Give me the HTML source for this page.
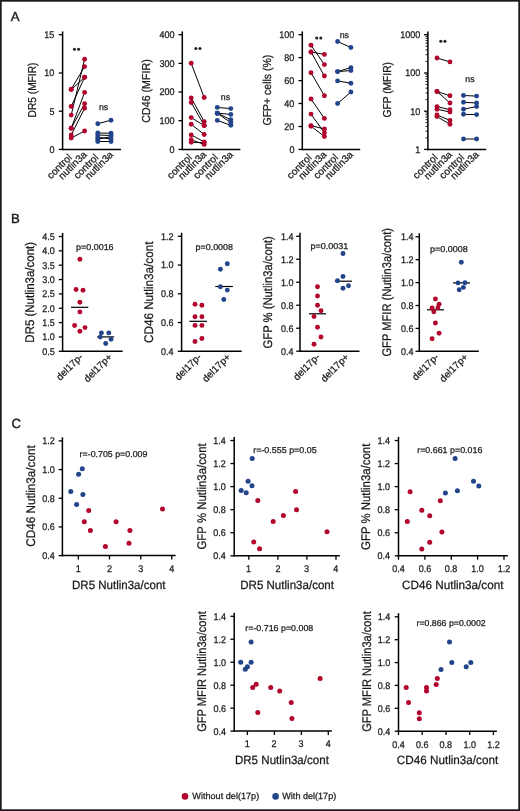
<!DOCTYPE html>
<html><head><meta charset="utf-8"><title>Figure</title>
<style>
html,body{margin:0;padding:0;background:#fff;}
body{width:520px;height:811px;overflow:hidden;}
svg{display:block;will-change:transform;}
text{font-family:"Liberation Sans", sans-serif;text-rendering:geometricPrecision;fill:#1a1a1a;stroke:#1a1a1a;stroke-width:0.25px;}
text.pl{stroke-width:0.4px;}
</style></head><body>
<svg width="520" height="811" viewBox="0 0 520 811">
<rect x="0" y="0" width="520" height="811" fill="#fff"/>
<text x="10.8" y="21.3" font-size="13.2" class="pl">A</text>
<text x="36.1" y="90" font-size="11.5" text-anchor="middle" textLength="54.8" lengthAdjust="spacingAndGlyphs" transform="rotate(-90 36.1 90)">DR5 (MFIR)</text>
<line x1="62.6" y1="31.4" x2="62.6" y2="150.15" stroke="#000" stroke-width="1.5"/>
<line x1="58.8" y1="149.4" x2="62.6" y2="149.4" stroke="#000" stroke-width="1.3"/>
<text x="54.4" y="152.8" font-size="9.7" text-anchor="end" textLength="5.02" lengthAdjust="spacingAndGlyphs">0</text>
<line x1="58.8" y1="111.2" x2="62.6" y2="111.2" stroke="#000" stroke-width="1.3"/>
<text x="54.4" y="114.6" font-size="9.7" text-anchor="end" textLength="5.02" lengthAdjust="spacingAndGlyphs">5</text>
<line x1="58.8" y1="73" x2="62.6" y2="73" stroke="#000" stroke-width="1.3"/>
<text x="54.4" y="76.4" font-size="9.7" text-anchor="end" textLength="10.03" lengthAdjust="spacingAndGlyphs">10</text>
<line x1="58.8" y1="34.7" x2="62.6" y2="34.7" stroke="#000" stroke-width="1.3"/>
<text x="54.4" y="38.1" font-size="9.7" text-anchor="end" textLength="10.03" lengthAdjust="spacingAndGlyphs">15</text>
<line x1="61.85" y1="149.4" x2="121" y2="149.4" stroke="#000" stroke-width="1.5"/>
<line x1="71.2" y1="89.2" x2="84.6" y2="66.6" stroke="#000" stroke-width="1"/>
<line x1="71.2" y1="89.6" x2="84.6" y2="77.3" stroke="#000" stroke-width="1"/>
<line x1="71.2" y1="106.5" x2="84.6" y2="77.3" stroke="#000" stroke-width="1"/>
<line x1="71.2" y1="115.1" x2="84.6" y2="59.2" stroke="#000" stroke-width="1"/>
<line x1="71.2" y1="128.3" x2="84.6" y2="92.4" stroke="#000" stroke-width="1"/>
<line x1="71.2" y1="128.3" x2="84.6" y2="103.7" stroke="#000" stroke-width="1"/>
<line x1="71.2" y1="135" x2="84.6" y2="108.2" stroke="#000" stroke-width="1"/>
<line x1="71.2" y1="138" x2="84.6" y2="131" stroke="#000" stroke-width="1"/>
<circle cx="71.2" cy="89.2" r="2.45" fill="#b1052e"/>
<circle cx="84.6" cy="66.6" r="2.45" fill="#b1052e"/>
<circle cx="71.2" cy="89.6" r="2.45" fill="#b1052e"/>
<circle cx="84.6" cy="77.3" r="2.45" fill="#b1052e"/>
<circle cx="71.2" cy="106.5" r="2.45" fill="#b1052e"/>
<circle cx="84.6" cy="77.3" r="2.45" fill="#b1052e"/>
<circle cx="71.2" cy="115.1" r="2.45" fill="#b1052e"/>
<circle cx="84.6" cy="59.2" r="2.45" fill="#b1052e"/>
<circle cx="71.2" cy="128.3" r="2.45" fill="#b1052e"/>
<circle cx="84.6" cy="92.4" r="2.45" fill="#b1052e"/>
<circle cx="71.2" cy="128.3" r="2.45" fill="#b1052e"/>
<circle cx="84.6" cy="103.7" r="2.45" fill="#b1052e"/>
<circle cx="71.2" cy="135" r="2.45" fill="#b1052e"/>
<circle cx="84.6" cy="108.2" r="2.45" fill="#b1052e"/>
<circle cx="71.2" cy="138" r="2.45" fill="#b1052e"/>
<circle cx="84.6" cy="131" r="2.45" fill="#b1052e"/>
<line x1="97.8" y1="123.7" x2="111" y2="120.2" stroke="#000" stroke-width="1"/>
<line x1="97.8" y1="133" x2="111" y2="133.2" stroke="#000" stroke-width="1"/>
<line x1="97.8" y1="135" x2="111" y2="135.5" stroke="#000" stroke-width="1"/>
<line x1="97.8" y1="137.2" x2="111" y2="139" stroke="#000" stroke-width="1"/>
<line x1="97.8" y1="139.2" x2="111" y2="136.8" stroke="#000" stroke-width="1"/>
<line x1="97.8" y1="141.5" x2="111" y2="141.5" stroke="#000" stroke-width="1"/>
<circle cx="97.8" cy="123.7" r="2.45" fill="#21448a"/>
<circle cx="111" cy="120.2" r="2.45" fill="#21448a"/>
<circle cx="97.8" cy="133" r="2.45" fill="#21448a"/>
<circle cx="111" cy="133.2" r="2.45" fill="#21448a"/>
<circle cx="97.8" cy="135" r="2.45" fill="#21448a"/>
<circle cx="111" cy="135.5" r="2.45" fill="#21448a"/>
<circle cx="97.8" cy="137.2" r="2.45" fill="#21448a"/>
<circle cx="111" cy="139" r="2.45" fill="#21448a"/>
<circle cx="97.8" cy="139.2" r="2.45" fill="#21448a"/>
<circle cx="111" cy="136.8" r="2.45" fill="#21448a"/>
<circle cx="97.8" cy="141.5" r="2.45" fill="#21448a"/>
<circle cx="111" cy="141.5" r="2.45" fill="#21448a"/>
<circle cx="74.45" cy="49.2" r="1.55" fill="#222"/>
<circle cx="78.55" cy="49.2" r="1.55" fill="#222"/>
<text x="103.6" y="109.7" font-size="8.8" text-anchor="middle">ns</text>
<text x="72.5" y="158.1" font-size="10.1" text-anchor="end" transform="rotate(-45 72.5 158.1)">control</text>
<text x="87.4" y="155.2" font-size="10" text-anchor="end" transform="rotate(-45 87.4 155.2)">nutlin3a</text>
<text x="99.1" y="158.1" font-size="10.1" text-anchor="end" transform="rotate(-45 99.1 158.1)">control</text>
<text x="113.8" y="155.2" font-size="10" text-anchor="end" transform="rotate(-45 113.8 155.2)">nutlin3a</text>
<text x="150" y="91" font-size="11.5" text-anchor="middle" textLength="63.4" lengthAdjust="spacingAndGlyphs" transform="rotate(-90 150 91)">CD46 (MFIR)</text>
<line x1="182.3" y1="31.4" x2="182.3" y2="150.15" stroke="#000" stroke-width="1.5"/>
<line x1="178.5" y1="149.4" x2="182.3" y2="149.4" stroke="#000" stroke-width="1.3"/>
<text x="174.6" y="152.8" font-size="9.7" text-anchor="end" textLength="5.02" lengthAdjust="spacingAndGlyphs">0</text>
<line x1="178.5" y1="120.7" x2="182.3" y2="120.7" stroke="#000" stroke-width="1.3"/>
<text x="174.6" y="124.1" font-size="9.7" text-anchor="end" textLength="15.05" lengthAdjust="spacingAndGlyphs">100</text>
<line x1="178.5" y1="92" x2="182.3" y2="92" stroke="#000" stroke-width="1.3"/>
<text x="174.6" y="95.4" font-size="9.7" text-anchor="end" textLength="15.05" lengthAdjust="spacingAndGlyphs">200</text>
<line x1="178.5" y1="63.4" x2="182.3" y2="63.4" stroke="#000" stroke-width="1.3"/>
<text x="174.6" y="66.8" font-size="9.7" text-anchor="end" textLength="15.05" lengthAdjust="spacingAndGlyphs">300</text>
<line x1="178.5" y1="34.7" x2="182.3" y2="34.7" stroke="#000" stroke-width="1.3"/>
<text x="174.6" y="38.1" font-size="9.7" text-anchor="end" textLength="15.05" lengthAdjust="spacingAndGlyphs">400</text>
<line x1="181.55" y1="149.4" x2="240.4" y2="149.4" stroke="#000" stroke-width="1.5"/>
<line x1="191.2" y1="63.3" x2="204.2" y2="97.5" stroke="#000" stroke-width="1"/>
<line x1="191.2" y1="97.9" x2="204.2" y2="121.6" stroke="#000" stroke-width="1"/>
<line x1="191.2" y1="102.5" x2="204.2" y2="125.5" stroke="#000" stroke-width="1"/>
<line x1="191.2" y1="117.6" x2="204.2" y2="125.5" stroke="#000" stroke-width="1"/>
<line x1="191.2" y1="124.3" x2="204.2" y2="134.5" stroke="#000" stroke-width="1"/>
<line x1="191.2" y1="134.9" x2="204.2" y2="141.9" stroke="#000" stroke-width="1"/>
<line x1="191.2" y1="139.8" x2="204.2" y2="144.4" stroke="#000" stroke-width="1"/>
<line x1="191.2" y1="142.3" x2="204.2" y2="142.6" stroke="#000" stroke-width="1"/>
<circle cx="191.2" cy="63.3" r="2.45" fill="#b1052e"/>
<circle cx="204.2" cy="97.5" r="2.45" fill="#b1052e"/>
<circle cx="191.2" cy="97.9" r="2.45" fill="#b1052e"/>
<circle cx="204.2" cy="121.6" r="2.45" fill="#b1052e"/>
<circle cx="191.2" cy="102.5" r="2.45" fill="#b1052e"/>
<circle cx="204.2" cy="125.5" r="2.45" fill="#b1052e"/>
<circle cx="191.2" cy="117.6" r="2.45" fill="#b1052e"/>
<circle cx="204.2" cy="125.5" r="2.45" fill="#b1052e"/>
<circle cx="191.2" cy="124.3" r="2.45" fill="#b1052e"/>
<circle cx="204.2" cy="134.5" r="2.45" fill="#b1052e"/>
<circle cx="191.2" cy="134.9" r="2.45" fill="#b1052e"/>
<circle cx="204.2" cy="141.9" r="2.45" fill="#b1052e"/>
<circle cx="191.2" cy="139.8" r="2.45" fill="#b1052e"/>
<circle cx="204.2" cy="144.4" r="2.45" fill="#b1052e"/>
<circle cx="191.2" cy="142.3" r="2.45" fill="#b1052e"/>
<circle cx="204.2" cy="142.6" r="2.45" fill="#b1052e"/>
<line x1="217.3" y1="107.4" x2="230.8" y2="108.6" stroke="#000" stroke-width="1"/>
<line x1="217.3" y1="113.2" x2="230.8" y2="114.4" stroke="#000" stroke-width="1"/>
<line x1="217.3" y1="113.2" x2="230.8" y2="119.7" stroke="#000" stroke-width="1"/>
<line x1="217.3" y1="113.2" x2="230.8" y2="122.6" stroke="#000" stroke-width="1"/>
<line x1="217.3" y1="120.4" x2="230.8" y2="125.3" stroke="#000" stroke-width="1"/>
<circle cx="217.3" cy="107.4" r="2.45" fill="#21448a"/>
<circle cx="230.8" cy="108.6" r="2.45" fill="#21448a"/>
<circle cx="217.3" cy="113.2" r="2.45" fill="#21448a"/>
<circle cx="230.8" cy="114.4" r="2.45" fill="#21448a"/>
<circle cx="217.3" cy="113.2" r="2.45" fill="#21448a"/>
<circle cx="230.8" cy="119.7" r="2.45" fill="#21448a"/>
<circle cx="217.3" cy="113.2" r="2.45" fill="#21448a"/>
<circle cx="230.8" cy="122.6" r="2.45" fill="#21448a"/>
<circle cx="217.3" cy="120.4" r="2.45" fill="#21448a"/>
<circle cx="230.8" cy="125.3" r="2.45" fill="#21448a"/>
<circle cx="195.85" cy="48.5" r="1.55" fill="#222"/>
<circle cx="199.95" cy="48.5" r="1.55" fill="#222"/>
<text x="225.4" y="99.7" font-size="8.8" text-anchor="middle">ns</text>
<text x="192.5" y="158.1" font-size="10.1" text-anchor="end" transform="rotate(-45 192.5 158.1)">control</text>
<text x="207" y="155.2" font-size="10" text-anchor="end" transform="rotate(-45 207 155.2)">nutlin3a</text>
<text x="218.6" y="158.1" font-size="10.1" text-anchor="end" transform="rotate(-45 218.6 158.1)">control</text>
<text x="233.6" y="155.2" font-size="10" text-anchor="end" transform="rotate(-45 233.6 155.2)">nutlin3a</text>
<text x="270.6" y="90.1" font-size="11.5" text-anchor="middle" textLength="70.8" lengthAdjust="spacingAndGlyphs" transform="rotate(-90 270.6 90.1)">GFP+ cells (%)</text>
<line x1="302.3" y1="31.4" x2="302.3" y2="150.15" stroke="#000" stroke-width="1.5"/>
<line x1="298.5" y1="149.4" x2="302.3" y2="149.4" stroke="#000" stroke-width="1.3"/>
<text x="294.4" y="152.8" font-size="9.7" text-anchor="end" textLength="5.02" lengthAdjust="spacingAndGlyphs">0</text>
<line x1="298.5" y1="126.5" x2="302.3" y2="126.5" stroke="#000" stroke-width="1.3"/>
<text x="294.4" y="129.9" font-size="9.7" text-anchor="end" textLength="10.03" lengthAdjust="spacingAndGlyphs">20</text>
<line x1="298.5" y1="103.5" x2="302.3" y2="103.5" stroke="#000" stroke-width="1.3"/>
<text x="294.4" y="106.9" font-size="9.7" text-anchor="end" textLength="10.03" lengthAdjust="spacingAndGlyphs">40</text>
<line x1="298.5" y1="80.6" x2="302.3" y2="80.6" stroke="#000" stroke-width="1.3"/>
<text x="294.4" y="84" font-size="9.7" text-anchor="end" textLength="10.03" lengthAdjust="spacingAndGlyphs">60</text>
<line x1="298.5" y1="57.6" x2="302.3" y2="57.6" stroke="#000" stroke-width="1.3"/>
<text x="294.4" y="61" font-size="9.7" text-anchor="end" textLength="10.03" lengthAdjust="spacingAndGlyphs">80</text>
<line x1="298.5" y1="34.7" x2="302.3" y2="34.7" stroke="#000" stroke-width="1.3"/>
<text x="294.4" y="38.1" font-size="9.7" text-anchor="end" textLength="15.05" lengthAdjust="spacingAndGlyphs">100</text>
<line x1="301.55" y1="149.4" x2="360.2" y2="149.4" stroke="#000" stroke-width="1.5"/>
<line x1="311" y1="45.2" x2="324.4" y2="64.6" stroke="#000" stroke-width="1"/>
<line x1="311" y1="52" x2="324.4" y2="54.4" stroke="#000" stroke-width="1"/>
<line x1="311" y1="52" x2="324.4" y2="76" stroke="#000" stroke-width="1"/>
<line x1="311" y1="72.7" x2="324.4" y2="95.7" stroke="#000" stroke-width="1"/>
<line x1="311" y1="99" x2="324.4" y2="118.4" stroke="#000" stroke-width="1"/>
<line x1="311" y1="114.1" x2="324.4" y2="132.7" stroke="#000" stroke-width="1"/>
<line x1="311" y1="125.6" x2="324.4" y2="129" stroke="#000" stroke-width="1"/>
<line x1="311" y1="126.2" x2="324.4" y2="136.5" stroke="#000" stroke-width="1"/>
<circle cx="311" cy="45.2" r="2.45" fill="#b1052e"/>
<circle cx="324.4" cy="64.6" r="2.45" fill="#b1052e"/>
<circle cx="311" cy="52" r="2.45" fill="#b1052e"/>
<circle cx="324.4" cy="54.4" r="2.45" fill="#b1052e"/>
<circle cx="311" cy="52" r="2.45" fill="#b1052e"/>
<circle cx="324.4" cy="76" r="2.45" fill="#b1052e"/>
<circle cx="311" cy="72.7" r="2.45" fill="#b1052e"/>
<circle cx="324.4" cy="95.7" r="2.45" fill="#b1052e"/>
<circle cx="311" cy="99" r="2.45" fill="#b1052e"/>
<circle cx="324.4" cy="118.4" r="2.45" fill="#b1052e"/>
<circle cx="311" cy="114.1" r="2.45" fill="#b1052e"/>
<circle cx="324.4" cy="132.7" r="2.45" fill="#b1052e"/>
<circle cx="311" cy="125.6" r="2.45" fill="#b1052e"/>
<circle cx="324.4" cy="129" r="2.45" fill="#b1052e"/>
<circle cx="311" cy="126.2" r="2.45" fill="#b1052e"/>
<circle cx="324.4" cy="136.5" r="2.45" fill="#b1052e"/>
<line x1="337.6" y1="41.5" x2="350.9" y2="47.5" stroke="#000" stroke-width="1"/>
<line x1="337.6" y1="71.6" x2="350.9" y2="67.6" stroke="#000" stroke-width="1"/>
<line x1="337.6" y1="71.6" x2="350.9" y2="70.5" stroke="#000" stroke-width="1"/>
<line x1="337.6" y1="80.9" x2="350.9" y2="83.2" stroke="#000" stroke-width="1"/>
<line x1="337.6" y1="103.5" x2="350.9" y2="92" stroke="#000" stroke-width="1"/>
<circle cx="337.6" cy="41.5" r="2.45" fill="#21448a"/>
<circle cx="350.9" cy="47.5" r="2.45" fill="#21448a"/>
<circle cx="337.6" cy="71.6" r="2.45" fill="#21448a"/>
<circle cx="350.9" cy="67.6" r="2.45" fill="#21448a"/>
<circle cx="337.6" cy="71.6" r="2.45" fill="#21448a"/>
<circle cx="350.9" cy="70.5" r="2.45" fill="#21448a"/>
<circle cx="337.6" cy="80.9" r="2.45" fill="#21448a"/>
<circle cx="350.9" cy="83.2" r="2.45" fill="#21448a"/>
<circle cx="337.6" cy="103.5" r="2.45" fill="#21448a"/>
<circle cx="350.9" cy="92" r="2.45" fill="#21448a"/>
<circle cx="316.75" cy="38" r="1.55" fill="#222"/>
<circle cx="320.85" cy="38" r="1.55" fill="#222"/>
<text x="344.3" y="38" font-size="8.8" text-anchor="middle">ns</text>
<text x="312.3" y="158.1" font-size="10.1" text-anchor="end" transform="rotate(-45 312.3 158.1)">control</text>
<text x="327.2" y="155.2" font-size="10" text-anchor="end" transform="rotate(-45 327.2 155.2)">nutlin3a</text>
<text x="338.9" y="158.1" font-size="10.1" text-anchor="end" transform="rotate(-45 338.9 158.1)">control</text>
<text x="353.7" y="155.2" font-size="10" text-anchor="end" transform="rotate(-45 353.7 155.2)">nutlin3a</text>
<text x="390.6" y="89.8" font-size="11.5" text-anchor="middle" textLength="55.5" lengthAdjust="spacingAndGlyphs" transform="rotate(-90 390.6 89.8)">GFP (MFIR)</text>
<line x1="427.9" y1="31.4" x2="427.9" y2="150.15" stroke="#000" stroke-width="1.5"/>
<line x1="424.1" y1="149.4" x2="427.9" y2="149.4" stroke="#000" stroke-width="1.3"/>
<text x="420.3" y="152.8" font-size="9.7" text-anchor="end" textLength="5.02" lengthAdjust="spacingAndGlyphs">1</text>
<line x1="424.1" y1="111.2" x2="427.9" y2="111.2" stroke="#000" stroke-width="1.3"/>
<text x="420.3" y="114.6" font-size="9.7" text-anchor="end" textLength="10.03" lengthAdjust="spacingAndGlyphs">10</text>
<line x1="424.1" y1="73" x2="427.9" y2="73" stroke="#000" stroke-width="1.3"/>
<text x="420.3" y="76.4" font-size="9.7" text-anchor="end" textLength="15.05" lengthAdjust="spacingAndGlyphs">100</text>
<line x1="424.1" y1="34.7" x2="427.9" y2="34.7" stroke="#000" stroke-width="1.3"/>
<text x="420.3" y="38.1" font-size="9.7" text-anchor="end" textLength="20.07" lengthAdjust="spacingAndGlyphs">1000</text>
<line x1="425.5" y1="137.89" x2="427.9" y2="137.89" stroke="#000" stroke-width="0.9"/>
<line x1="425.5" y1="131.16" x2="427.9" y2="131.16" stroke="#000" stroke-width="0.9"/>
<line x1="425.5" y1="126.38" x2="427.9" y2="126.38" stroke="#000" stroke-width="0.9"/>
<line x1="425.5" y1="122.68" x2="427.9" y2="122.68" stroke="#000" stroke-width="0.9"/>
<line x1="425.5" y1="119.65" x2="427.9" y2="119.65" stroke="#000" stroke-width="0.9"/>
<line x1="425.5" y1="117.09" x2="427.9" y2="117.09" stroke="#000" stroke-width="0.9"/>
<line x1="425.5" y1="114.87" x2="427.9" y2="114.87" stroke="#000" stroke-width="0.9"/>
<line x1="425.5" y1="112.92" x2="427.9" y2="112.92" stroke="#000" stroke-width="0.9"/>
<line x1="425.5" y1="99.66" x2="427.9" y2="99.66" stroke="#000" stroke-width="0.9"/>
<line x1="425.5" y1="92.93" x2="427.9" y2="92.93" stroke="#000" stroke-width="0.9"/>
<line x1="425.5" y1="88.15" x2="427.9" y2="88.15" stroke="#000" stroke-width="0.9"/>
<line x1="425.5" y1="84.45" x2="427.9" y2="84.45" stroke="#000" stroke-width="0.9"/>
<line x1="425.5" y1="81.42" x2="427.9" y2="81.42" stroke="#000" stroke-width="0.9"/>
<line x1="425.5" y1="78.86" x2="427.9" y2="78.86" stroke="#000" stroke-width="0.9"/>
<line x1="425.5" y1="76.64" x2="427.9" y2="76.64" stroke="#000" stroke-width="0.9"/>
<line x1="425.5" y1="74.69" x2="427.9" y2="74.69" stroke="#000" stroke-width="0.9"/>
<line x1="425.5" y1="61.43" x2="427.9" y2="61.43" stroke="#000" stroke-width="0.9"/>
<line x1="425.5" y1="54.7" x2="427.9" y2="54.7" stroke="#000" stroke-width="0.9"/>
<line x1="425.5" y1="49.92" x2="427.9" y2="49.92" stroke="#000" stroke-width="0.9"/>
<line x1="425.5" y1="46.22" x2="427.9" y2="46.22" stroke="#000" stroke-width="0.9"/>
<line x1="425.5" y1="43.19" x2="427.9" y2="43.19" stroke="#000" stroke-width="0.9"/>
<line x1="425.5" y1="40.63" x2="427.9" y2="40.63" stroke="#000" stroke-width="0.9"/>
<line x1="425.5" y1="38.41" x2="427.9" y2="38.41" stroke="#000" stroke-width="0.9"/>
<line x1="425.5" y1="36.46" x2="427.9" y2="36.46" stroke="#000" stroke-width="0.9"/>
<line x1="427.15" y1="149.4" x2="486.2" y2="149.4" stroke="#000" stroke-width="1.5"/>
<line x1="437" y1="58" x2="450" y2="61.9" stroke="#000" stroke-width="1"/>
<line x1="437" y1="91.5" x2="450" y2="95.8" stroke="#000" stroke-width="1"/>
<line x1="437" y1="91.5" x2="450" y2="103" stroke="#000" stroke-width="1"/>
<line x1="437" y1="106.6" x2="450" y2="109.7" stroke="#000" stroke-width="1"/>
<line x1="437" y1="109.2" x2="450" y2="112" stroke="#000" stroke-width="1"/>
<line x1="437" y1="115" x2="450" y2="120.4" stroke="#000" stroke-width="1"/>
<line x1="437" y1="116.6" x2="450" y2="124.3" stroke="#000" stroke-width="1"/>
<circle cx="437" cy="58" r="2.45" fill="#b1052e"/>
<circle cx="450" cy="61.9" r="2.45" fill="#b1052e"/>
<circle cx="437" cy="91.5" r="2.45" fill="#b1052e"/>
<circle cx="450" cy="95.8" r="2.45" fill="#b1052e"/>
<circle cx="437" cy="91.5" r="2.45" fill="#b1052e"/>
<circle cx="450" cy="103" r="2.45" fill="#b1052e"/>
<circle cx="437" cy="106.6" r="2.45" fill="#b1052e"/>
<circle cx="450" cy="109.7" r="2.45" fill="#b1052e"/>
<circle cx="437" cy="109.2" r="2.45" fill="#b1052e"/>
<circle cx="450" cy="112" r="2.45" fill="#b1052e"/>
<circle cx="437" cy="115" r="2.45" fill="#b1052e"/>
<circle cx="450" cy="120.4" r="2.45" fill="#b1052e"/>
<circle cx="437" cy="116.6" r="2.45" fill="#b1052e"/>
<circle cx="450" cy="124.3" r="2.45" fill="#b1052e"/>
<line x1="463.5" y1="95.5" x2="476.6" y2="96.1" stroke="#000" stroke-width="1"/>
<line x1="463.5" y1="102.3" x2="476.6" y2="103" stroke="#000" stroke-width="1"/>
<line x1="463.5" y1="109.2" x2="476.6" y2="106.6" stroke="#000" stroke-width="1"/>
<line x1="463.5" y1="114.3" x2="476.6" y2="114.6" stroke="#000" stroke-width="1"/>
<line x1="463.5" y1="139" x2="476.6" y2="139" stroke="#000" stroke-width="1"/>
<circle cx="463.5" cy="95.5" r="2.45" fill="#21448a"/>
<circle cx="476.6" cy="96.1" r="2.45" fill="#21448a"/>
<circle cx="463.5" cy="102.3" r="2.45" fill="#21448a"/>
<circle cx="476.6" cy="103" r="2.45" fill="#21448a"/>
<circle cx="463.5" cy="109.2" r="2.45" fill="#21448a"/>
<circle cx="476.6" cy="106.6" r="2.45" fill="#21448a"/>
<circle cx="463.5" cy="114.3" r="2.45" fill="#21448a"/>
<circle cx="476.6" cy="114.6" r="2.45" fill="#21448a"/>
<circle cx="463.5" cy="139" r="2.45" fill="#21448a"/>
<circle cx="476.6" cy="139" r="2.45" fill="#21448a"/>
<circle cx="440.85" cy="41.3" r="1.55" fill="#222"/>
<circle cx="444.95" cy="41.3" r="1.55" fill="#222"/>
<text x="470" y="82.1" font-size="8.8" text-anchor="middle">ns</text>
<text x="438.3" y="158.1" font-size="10.1" text-anchor="end" transform="rotate(-45 438.3 158.1)">control</text>
<text x="452.8" y="155.2" font-size="10" text-anchor="end" transform="rotate(-45 452.8 155.2)">nutlin3a</text>
<text x="464.8" y="158.1" font-size="10.1" text-anchor="end" transform="rotate(-45 464.8 158.1)">control</text>
<text x="479.4" y="155.2" font-size="10" text-anchor="end" transform="rotate(-45 479.4 155.2)">nutlin3a</text>
<text x="11" y="223.3" font-size="13.2" class="pl">B</text>
<text x="34.1" y="292.3" font-size="12.5" text-anchor="middle" textLength="100.7" lengthAdjust="spacingAndGlyphs" transform="rotate(-90 34.1 292.3)">DR5 (Nutlin3a/cont)</text>
<line x1="62.6" y1="232.9" x2="62.6" y2="352.05" stroke="#000" stroke-width="1.5"/>
<line x1="58.8" y1="351.3" x2="62.6" y2="351.3" stroke="#000" stroke-width="1.3"/>
<text x="54.8" y="354.7" font-size="9.7" text-anchor="end" textLength="12.54" lengthAdjust="spacingAndGlyphs">0.5</text>
<line x1="58.8" y1="336.95" x2="62.6" y2="336.95" stroke="#000" stroke-width="1.3"/>
<text x="54.8" y="340.35" font-size="9.7" text-anchor="end" textLength="12.54" lengthAdjust="spacingAndGlyphs">1.0</text>
<line x1="58.8" y1="322.6" x2="62.6" y2="322.6" stroke="#000" stroke-width="1.3"/>
<text x="54.8" y="326" font-size="9.7" text-anchor="end" textLength="12.54" lengthAdjust="spacingAndGlyphs">1.5</text>
<line x1="58.8" y1="308.25" x2="62.6" y2="308.25" stroke="#000" stroke-width="1.3"/>
<text x="54.8" y="311.65" font-size="9.7" text-anchor="end" textLength="12.54" lengthAdjust="spacingAndGlyphs">2.0</text>
<line x1="58.8" y1="293.9" x2="62.6" y2="293.9" stroke="#000" stroke-width="1.3"/>
<text x="54.8" y="297.3" font-size="9.7" text-anchor="end" textLength="12.54" lengthAdjust="spacingAndGlyphs">2.5</text>
<line x1="58.8" y1="279.55" x2="62.6" y2="279.55" stroke="#000" stroke-width="1.3"/>
<text x="54.8" y="282.95" font-size="9.7" text-anchor="end" textLength="12.54" lengthAdjust="spacingAndGlyphs">3.0</text>
<line x1="58.8" y1="265.2" x2="62.6" y2="265.2" stroke="#000" stroke-width="1.3"/>
<text x="54.8" y="268.6" font-size="9.7" text-anchor="end" textLength="12.54" lengthAdjust="spacingAndGlyphs">3.5</text>
<line x1="58.8" y1="250.85" x2="62.6" y2="250.85" stroke="#000" stroke-width="1.3"/>
<text x="54.8" y="254.25" font-size="9.7" text-anchor="end" textLength="12.54" lengthAdjust="spacingAndGlyphs">4.0</text>
<line x1="58.8" y1="236.5" x2="62.6" y2="236.5" stroke="#000" stroke-width="1.3"/>
<text x="54.8" y="239.9" font-size="9.7" text-anchor="end" textLength="12.54" lengthAdjust="spacingAndGlyphs">4.5</text>
<line x1="61.85" y1="351.3" x2="122.6" y2="351.3" stroke="#000" stroke-width="1.5"/>
<line x1="71" y1="307.3" x2="88.3" y2="307.3" stroke="#000" stroke-width="1.2"/>
<line x1="97.2" y1="336.9" x2="114.1" y2="336.9" stroke="#000" stroke-width="1.2"/>
<circle cx="79.9" cy="259.3" r="2.45" fill="#b1052e"/>
<circle cx="76.1" cy="289.5" r="2.45" fill="#b1052e"/>
<circle cx="83" cy="290.2" r="2.45" fill="#b1052e"/>
<circle cx="79.9" cy="302.2" r="2.45" fill="#b1052e"/>
<circle cx="79.9" cy="311.9" r="2.45" fill="#b1052e"/>
<circle cx="74.6" cy="325.5" r="2.45" fill="#b1052e"/>
<circle cx="85" cy="327.6" r="2.45" fill="#b1052e"/>
<circle cx="79.9" cy="331.2" r="2.45" fill="#b1052e"/>
<circle cx="101.4" cy="332.9" r="2.45" fill="#21448a"/>
<circle cx="108.8" cy="332.9" r="2.45" fill="#21448a"/>
<circle cx="100.2" cy="337.1" r="2.45" fill="#21448a"/>
<circle cx="111" cy="339.2" r="2.45" fill="#21448a"/>
<circle cx="105.7" cy="343.5" r="2.45" fill="#21448a"/>
<text x="76" y="249.6" font-size="8.6" textLength="37.6" lengthAdjust="spacingAndGlyphs">p=0.0016</text>
<text x="83.5" y="357.6" font-size="9.9" text-anchor="end" transform="rotate(-45 83.5 357.6)">del17p-</text>
<text x="112.8" y="357.6" font-size="9.9" text-anchor="end" transform="rotate(-45 112.8 357.6)">del17p+</text>
<text x="153.3" y="292.3" font-size="12.5" text-anchor="middle" textLength="101.4" lengthAdjust="spacingAndGlyphs" transform="rotate(-90 153.3 292.3)">CD46 Nutlin3a/cont</text>
<line x1="181.6" y1="232.7" x2="181.6" y2="352.05" stroke="#000" stroke-width="1.5"/>
<line x1="177.8" y1="351.3" x2="181.6" y2="351.3" stroke="#000" stroke-width="1.3"/>
<text x="173.5" y="354.7" font-size="9.7" text-anchor="end" textLength="12.54" lengthAdjust="spacingAndGlyphs">0.4</text>
<line x1="177.8" y1="322.55" x2="181.6" y2="322.55" stroke="#000" stroke-width="1.3"/>
<text x="173.5" y="325.95" font-size="9.7" text-anchor="end" textLength="12.54" lengthAdjust="spacingAndGlyphs">0.6</text>
<line x1="177.8" y1="293.8" x2="181.6" y2="293.8" stroke="#000" stroke-width="1.3"/>
<text x="173.5" y="297.2" font-size="9.7" text-anchor="end" textLength="12.54" lengthAdjust="spacingAndGlyphs">0.8</text>
<line x1="177.8" y1="265.05" x2="181.6" y2="265.05" stroke="#000" stroke-width="1.3"/>
<text x="173.5" y="268.45" font-size="9.7" text-anchor="end" textLength="12.54" lengthAdjust="spacingAndGlyphs">1.0</text>
<line x1="177.8" y1="236.3" x2="181.6" y2="236.3" stroke="#000" stroke-width="1.3"/>
<text x="173.5" y="239.7" font-size="9.7" text-anchor="end" textLength="12.54" lengthAdjust="spacingAndGlyphs">1.2</text>
<line x1="180.85" y1="351.3" x2="241.7" y2="351.3" stroke="#000" stroke-width="1.5"/>
<line x1="189.4" y1="321.3" x2="207" y2="321.3" stroke="#000" stroke-width="1.2"/>
<line x1="215.3" y1="286.5" x2="232.9" y2="286.5" stroke="#000" stroke-width="1.2"/>
<circle cx="195" cy="304.2" r="2.45" fill="#b1052e"/>
<circle cx="201.9" cy="305.3" r="2.45" fill="#b1052e"/>
<circle cx="195" cy="316.8" r="2.45" fill="#b1052e"/>
<circle cx="201.9" cy="316.8" r="2.45" fill="#b1052e"/>
<circle cx="195" cy="325.4" r="2.45" fill="#b1052e"/>
<circle cx="201.9" cy="325.4" r="2.45" fill="#b1052e"/>
<circle cx="195" cy="341.5" r="2.45" fill="#b1052e"/>
<circle cx="201.9" cy="338.5" r="2.45" fill="#b1052e"/>
<circle cx="227.3" cy="263.8" r="2.45" fill="#21448a"/>
<circle cx="220.4" cy="269.3" r="2.45" fill="#21448a"/>
<circle cx="220.4" cy="286.8" r="2.45" fill="#21448a"/>
<circle cx="227.3" cy="290.1" r="2.45" fill="#21448a"/>
<circle cx="223.8" cy="299.5" r="2.45" fill="#21448a"/>
<text x="195.5" y="250.3" font-size="8.6" textLength="37.5" lengthAdjust="spacingAndGlyphs">p=0.0008</text>
<text x="202" y="357.6" font-size="9.9" text-anchor="end" transform="rotate(-45 202 357.6)">del17p-</text>
<text x="231.2" y="357.6" font-size="9.9" text-anchor="end" transform="rotate(-45 231.2 357.6)">del17p+</text>
<text x="271.7" y="292.3" font-size="12.5" text-anchor="middle" textLength="112.2" lengthAdjust="spacingAndGlyphs" transform="rotate(-90 271.7 292.3)">GFP % (Nutlin3a/cont)</text>
<line x1="300" y1="232.7" x2="300" y2="352.05" stroke="#000" stroke-width="1.5"/>
<line x1="296.2" y1="351.2" x2="300" y2="351.2" stroke="#000" stroke-width="1.3"/>
<text x="293.6" y="354.6" font-size="9.7" text-anchor="end" textLength="12.54" lengthAdjust="spacingAndGlyphs">0.4</text>
<line x1="296.2" y1="328.22" x2="300" y2="328.22" stroke="#000" stroke-width="1.3"/>
<text x="293.6" y="331.62" font-size="9.7" text-anchor="end" textLength="12.54" lengthAdjust="spacingAndGlyphs">0.6</text>
<line x1="296.2" y1="305.24" x2="300" y2="305.24" stroke="#000" stroke-width="1.3"/>
<text x="293.6" y="308.64" font-size="9.7" text-anchor="end" textLength="12.54" lengthAdjust="spacingAndGlyphs">0.8</text>
<line x1="296.2" y1="282.26" x2="300" y2="282.26" stroke="#000" stroke-width="1.3"/>
<text x="293.6" y="285.66" font-size="9.7" text-anchor="end" textLength="12.54" lengthAdjust="spacingAndGlyphs">1.0</text>
<line x1="296.2" y1="259.28" x2="300" y2="259.28" stroke="#000" stroke-width="1.3"/>
<text x="293.6" y="262.68" font-size="9.7" text-anchor="end" textLength="12.54" lengthAdjust="spacingAndGlyphs">1.2</text>
<line x1="296.2" y1="236.3" x2="300" y2="236.3" stroke="#000" stroke-width="1.3"/>
<text x="293.6" y="239.7" font-size="9.7" text-anchor="end" textLength="12.54" lengthAdjust="spacingAndGlyphs">1.4</text>
<line x1="299.25" y1="351.3" x2="359.5" y2="351.3" stroke="#000" stroke-width="1.5"/>
<line x1="309" y1="313.8" x2="326" y2="313.8" stroke="#000" stroke-width="1.2"/>
<line x1="334.8" y1="281.2" x2="351.9" y2="281.2" stroke="#000" stroke-width="1.2"/>
<circle cx="317.5" cy="286.75" r="2.45" fill="#b1052e"/>
<circle cx="317.5" cy="296" r="2.45" fill="#b1052e"/>
<circle cx="317.5" cy="305.25" r="2.45" fill="#b1052e"/>
<circle cx="321" cy="310.75" r="2.45" fill="#b1052e"/>
<circle cx="314" cy="316.5" r="2.45" fill="#b1052e"/>
<circle cx="317.5" cy="327.25" r="2.45" fill="#b1052e"/>
<circle cx="321" cy="337" r="2.45" fill="#b1052e"/>
<circle cx="314" cy="344.25" r="2.45" fill="#b1052e"/>
<circle cx="343" cy="253.5" r="2.45" fill="#21448a"/>
<circle cx="343" cy="276.5" r="2.45" fill="#21448a"/>
<circle cx="337.5" cy="280.75" r="2.45" fill="#21448a"/>
<circle cx="348.5" cy="285.75" r="2.45" fill="#21448a"/>
<circle cx="343" cy="288.25" r="2.45" fill="#21448a"/>
<text x="310.5" y="248.6" font-size="8.6" textLength="37.8" lengthAdjust="spacingAndGlyphs">p=0.0031</text>
<text x="320.5" y="357.6" font-size="9.9" text-anchor="end" transform="rotate(-45 320.5 357.6)">del17p-</text>
<text x="349.7" y="357.6" font-size="9.9" text-anchor="end" transform="rotate(-45 349.7 357.6)">del17p+</text>
<text x="390.6" y="292.3" font-size="12.5" text-anchor="middle" textLength="128.5" lengthAdjust="spacingAndGlyphs" transform="rotate(-90 390.6 292.3)">GFP MFIR (Nutlin3a/cont)</text>
<line x1="419.3" y1="233.2" x2="419.3" y2="352.05" stroke="#000" stroke-width="1.5"/>
<line x1="415.5" y1="351.3" x2="419.3" y2="351.3" stroke="#000" stroke-width="1.3"/>
<text x="413.6" y="354.7" font-size="9.7" text-anchor="end" textLength="12.54" lengthAdjust="spacingAndGlyphs">0.4</text>
<line x1="415.5" y1="328.4" x2="419.3" y2="328.4" stroke="#000" stroke-width="1.3"/>
<text x="413.6" y="331.8" font-size="9.7" text-anchor="end" textLength="12.54" lengthAdjust="spacingAndGlyphs">0.6</text>
<line x1="415.5" y1="305.5" x2="419.3" y2="305.5" stroke="#000" stroke-width="1.3"/>
<text x="413.6" y="308.9" font-size="9.7" text-anchor="end" textLength="12.54" lengthAdjust="spacingAndGlyphs">0.8</text>
<line x1="415.5" y1="282.6" x2="419.3" y2="282.6" stroke="#000" stroke-width="1.3"/>
<text x="413.6" y="286" font-size="9.7" text-anchor="end" textLength="12.54" lengthAdjust="spacingAndGlyphs">1.0</text>
<line x1="415.5" y1="259.7" x2="419.3" y2="259.7" stroke="#000" stroke-width="1.3"/>
<text x="413.6" y="263.1" font-size="9.7" text-anchor="end" textLength="12.54" lengthAdjust="spacingAndGlyphs">1.2</text>
<line x1="415.5" y1="236.8" x2="419.3" y2="236.8" stroke="#000" stroke-width="1.3"/>
<text x="413.6" y="240.2" font-size="9.7" text-anchor="end" textLength="12.54" lengthAdjust="spacingAndGlyphs">1.4</text>
<line x1="418.55" y1="351.3" x2="478.8" y2="351.3" stroke="#000" stroke-width="1.5"/>
<line x1="427" y1="309.8" x2="444" y2="309.8" stroke="#000" stroke-width="1.2"/>
<line x1="453" y1="282.9" x2="470" y2="282.9" stroke="#000" stroke-width="1.2"/>
<circle cx="435.4" cy="299" r="2.45" fill="#b1052e"/>
<circle cx="439.1" cy="304.3" r="2.45" fill="#b1052e"/>
<circle cx="437.9" cy="307.7" r="2.45" fill="#b1052e"/>
<circle cx="432.1" cy="308" r="2.45" fill="#b1052e"/>
<circle cx="433.8" cy="311.7" r="2.45" fill="#b1052e"/>
<circle cx="435.4" cy="323" r="2.45" fill="#b1052e"/>
<circle cx="439.1" cy="333.2" r="2.45" fill="#b1052e"/>
<circle cx="432.1" cy="338.8" r="2.45" fill="#b1052e"/>
<circle cx="461.3" cy="262.3" r="2.45" fill="#21448a"/>
<circle cx="458" cy="282.9" r="2.45" fill="#21448a"/>
<circle cx="465" cy="282.7" r="2.45" fill="#21448a"/>
<circle cx="463.4" cy="287.4" r="2.45" fill="#21448a"/>
<circle cx="459.2" cy="289.8" r="2.45" fill="#21448a"/>
<text x="430" y="251.6" font-size="8.6" textLength="37.8" lengthAdjust="spacingAndGlyphs">p=0.0008</text>
<text x="439.4" y="357.6" font-size="9.9" text-anchor="end" transform="rotate(-45 439.4 357.6)">del17p-</text>
<text x="468.6" y="357.6" font-size="9.9" text-anchor="end" transform="rotate(-45 468.6 357.6)">del17p+</text>
<text x="11.5" y="428.3" font-size="13.2" class="pl">C</text>
<text x="35" y="496" font-size="12.5" text-anchor="middle" textLength="101.3" lengthAdjust="spacingAndGlyphs" transform="rotate(-90 35 496)">CD46 Nutlin3a/cont</text>
<line x1="62.4" y1="437.3" x2="62.4" y2="556.35" stroke="#000" stroke-width="1.5"/>
<line x1="58.6" y1="555.6" x2="62.4" y2="555.6" stroke="#000" stroke-width="1.3"/>
<text x="54.7" y="559" font-size="9.7" text-anchor="end" textLength="12.54" lengthAdjust="spacingAndGlyphs">0.4</text>
<line x1="58.6" y1="526.92" x2="62.4" y2="526.92" stroke="#000" stroke-width="1.3"/>
<text x="54.7" y="530.32" font-size="9.7" text-anchor="end" textLength="12.54" lengthAdjust="spacingAndGlyphs">0.6</text>
<line x1="58.6" y1="498.25" x2="62.4" y2="498.25" stroke="#000" stroke-width="1.3"/>
<text x="54.7" y="501.65" font-size="9.7" text-anchor="end" textLength="12.54" lengthAdjust="spacingAndGlyphs">0.8</text>
<line x1="58.6" y1="469.57" x2="62.4" y2="469.57" stroke="#000" stroke-width="1.3"/>
<text x="54.7" y="472.97" font-size="9.7" text-anchor="end" textLength="12.54" lengthAdjust="spacingAndGlyphs">1.0</text>
<line x1="58.6" y1="440.9" x2="62.4" y2="440.9" stroke="#000" stroke-width="1.3"/>
<text x="54.7" y="444.3" font-size="9.7" text-anchor="end" textLength="12.54" lengthAdjust="spacingAndGlyphs">1.2</text>
<line x1="61.65" y1="555.6" x2="175.6" y2="555.6" stroke="#000" stroke-width="1.5"/>
<line x1="78.3" y1="555.6" x2="78.3" y2="559.5" stroke="#000" stroke-width="1.3"/>
<line x1="109.5" y1="555.6" x2="109.5" y2="559.5" stroke="#000" stroke-width="1.3"/>
<line x1="140.75" y1="555.6" x2="140.75" y2="559.5" stroke="#000" stroke-width="1.3"/>
<line x1="171.8" y1="555.6" x2="171.8" y2="559.5" stroke="#000" stroke-width="1.3"/>
<text x="78.2" y="571.9" font-size="9.7" text-anchor="middle" textLength="5.02" lengthAdjust="spacingAndGlyphs">1</text>
<text x="109.6" y="571.9" font-size="9.7" text-anchor="middle" textLength="5.02" lengthAdjust="spacingAndGlyphs">2</text>
<text x="140.8" y="571.9" font-size="9.7" text-anchor="middle" textLength="5.02" lengthAdjust="spacingAndGlyphs">3</text>
<text x="171.8" y="571.9" font-size="9.7" text-anchor="middle" textLength="5.02" lengthAdjust="spacingAndGlyphs">4</text>
<text x="118.75" y="588.8" font-size="12" text-anchor="middle" textLength="93.5" lengthAdjust="spacingAndGlyphs">DR5 Nutlin3a/cont</text>
<circle cx="88.7" cy="510.6" r="2.5" fill="#b1052e"/>
<circle cx="84.3" cy="521.8" r="2.5" fill="#b1052e"/>
<circle cx="90.4" cy="530.5" r="2.5" fill="#b1052e"/>
<circle cx="105.4" cy="546.4" r="2.5" fill="#b1052e"/>
<circle cx="116.1" cy="521.8" r="2.5" fill="#b1052e"/>
<circle cx="129.9" cy="530.5" r="2.5" fill="#b1052e"/>
<circle cx="129" cy="543.2" r="2.5" fill="#b1052e"/>
<circle cx="162.5" cy="508.9" r="2.5" fill="#b1052e"/>
<circle cx="82.3" cy="468.8" r="2.5" fill="#21448a"/>
<circle cx="78.6" cy="474.2" r="2.5" fill="#21448a"/>
<circle cx="70.8" cy="491.5" r="2.5" fill="#21448a"/>
<circle cx="82.9" cy="494.4" r="2.5" fill="#21448a"/>
<circle cx="76.6" cy="504.5" r="2.5" fill="#21448a"/>
<text x="79.6" y="457.2" font-size="8.6" textLength="67.8" lengthAdjust="spacingAndGlyphs">r=-0.705 p=0.009</text>
<text x="205.9" y="496.4" font-size="12.5" text-anchor="middle" textLength="106.2" lengthAdjust="spacingAndGlyphs" transform="rotate(-90 205.9 496.4)">GFP % Nutlin3a/cont</text>
<line x1="234.2" y1="436.9" x2="234.2" y2="556.55" stroke="#000" stroke-width="1.5"/>
<line x1="230.4" y1="555.8" x2="234.2" y2="555.8" stroke="#000" stroke-width="1.3"/>
<text x="225.8" y="559.2" font-size="9.7" text-anchor="end" textLength="12.54" lengthAdjust="spacingAndGlyphs">0.4</text>
<line x1="230.4" y1="532.74" x2="234.2" y2="532.74" stroke="#000" stroke-width="1.3"/>
<text x="225.8" y="536.14" font-size="9.7" text-anchor="end" textLength="12.54" lengthAdjust="spacingAndGlyphs">0.6</text>
<line x1="230.4" y1="509.68" x2="234.2" y2="509.68" stroke="#000" stroke-width="1.3"/>
<text x="225.8" y="513.08" font-size="9.7" text-anchor="end" textLength="12.54" lengthAdjust="spacingAndGlyphs">0.8</text>
<line x1="230.4" y1="486.62" x2="234.2" y2="486.62" stroke="#000" stroke-width="1.3"/>
<text x="225.8" y="490.02" font-size="9.7" text-anchor="end" textLength="12.54" lengthAdjust="spacingAndGlyphs">1.0</text>
<line x1="230.4" y1="463.56" x2="234.2" y2="463.56" stroke="#000" stroke-width="1.3"/>
<text x="225.8" y="466.96" font-size="9.7" text-anchor="end" textLength="12.54" lengthAdjust="spacingAndGlyphs">1.2</text>
<line x1="230.4" y1="440.5" x2="234.2" y2="440.5" stroke="#000" stroke-width="1.3"/>
<text x="225.8" y="443.9" font-size="9.7" text-anchor="end" textLength="12.54" lengthAdjust="spacingAndGlyphs">1.4</text>
<line x1="233.45" y1="555.8" x2="339.8" y2="555.8" stroke="#000" stroke-width="1.5"/>
<line x1="248.8" y1="555.8" x2="248.8" y2="559.7" stroke="#000" stroke-width="1.3"/>
<line x1="277.9" y1="555.8" x2="277.9" y2="559.7" stroke="#000" stroke-width="1.3"/>
<line x1="306.9" y1="555.8" x2="306.9" y2="559.7" stroke="#000" stroke-width="1.3"/>
<line x1="336" y1="555.8" x2="336" y2="559.7" stroke="#000" stroke-width="1.3"/>
<text x="248.4" y="572.1" font-size="9.7" text-anchor="middle" textLength="5.02" lengthAdjust="spacingAndGlyphs">1</text>
<text x="277.9" y="572.1" font-size="9.7" text-anchor="middle" textLength="5.02" lengthAdjust="spacingAndGlyphs">2</text>
<text x="306.6" y="572.1" font-size="9.7" text-anchor="middle" textLength="5.02" lengthAdjust="spacingAndGlyphs">3</text>
<text x="335.8" y="572.1" font-size="9.7" text-anchor="middle" textLength="5.02" lengthAdjust="spacingAndGlyphs">4</text>
<text x="287.1" y="588.8" font-size="12" text-anchor="middle" textLength="93.8" lengthAdjust="spacingAndGlyphs">DR5 Nutlin3a/cont</text>
<circle cx="257.8" cy="500.6" r="2.5" fill="#b1052e"/>
<circle cx="295.6" cy="491.6" r="2.5" fill="#b1052e"/>
<circle cx="296.5" cy="509.8" r="2.5" fill="#b1052e"/>
<circle cx="283.4" cy="515.6" r="2.5" fill="#b1052e"/>
<circle cx="273.2" cy="521.4" r="2.5" fill="#b1052e"/>
<circle cx="327" cy="531.8" r="2.5" fill="#b1052e"/>
<circle cx="253.8" cy="541.9" r="2.5" fill="#b1052e"/>
<circle cx="259.6" cy="548.8" r="2.5" fill="#b1052e"/>
<circle cx="252.2" cy="458.4" r="2.5" fill="#21448a"/>
<circle cx="248.1" cy="481.2" r="2.5" fill="#21448a"/>
<circle cx="252" cy="485.8" r="2.5" fill="#21448a"/>
<circle cx="241.2" cy="490.5" r="2.5" fill="#21448a"/>
<circle cx="246.2" cy="492.8" r="2.5" fill="#21448a"/>
<text x="253.2" y="452.9" font-size="8.6" textLength="63.5" lengthAdjust="spacingAndGlyphs">r=-0.555 p=0.05</text>
<text x="370.1" y="496.8" font-size="12.5" text-anchor="middle" textLength="106.3" lengthAdjust="spacingAndGlyphs" transform="rotate(-90 370.1 496.8)">GFP % Nutlin3a/cont</text>
<line x1="398.5" y1="436.9" x2="398.5" y2="556.55" stroke="#000" stroke-width="1.5"/>
<line x1="394.7" y1="555.8" x2="398.5" y2="555.8" stroke="#000" stroke-width="1.3"/>
<text x="390" y="559.2" font-size="9.7" text-anchor="end" textLength="12.54" lengthAdjust="spacingAndGlyphs">0.4</text>
<line x1="394.7" y1="532.74" x2="398.5" y2="532.74" stroke="#000" stroke-width="1.3"/>
<text x="390" y="536.14" font-size="9.7" text-anchor="end" textLength="12.54" lengthAdjust="spacingAndGlyphs">0.6</text>
<line x1="394.7" y1="509.68" x2="398.5" y2="509.68" stroke="#000" stroke-width="1.3"/>
<text x="390" y="513.08" font-size="9.7" text-anchor="end" textLength="12.54" lengthAdjust="spacingAndGlyphs">0.8</text>
<line x1="394.7" y1="486.62" x2="398.5" y2="486.62" stroke="#000" stroke-width="1.3"/>
<text x="390" y="490.02" font-size="9.7" text-anchor="end" textLength="12.54" lengthAdjust="spacingAndGlyphs">1.0</text>
<line x1="394.7" y1="463.56" x2="398.5" y2="463.56" stroke="#000" stroke-width="1.3"/>
<text x="390" y="466.96" font-size="9.7" text-anchor="end" textLength="12.54" lengthAdjust="spacingAndGlyphs">1.2</text>
<line x1="394.7" y1="440.5" x2="398.5" y2="440.5" stroke="#000" stroke-width="1.3"/>
<text x="390" y="443.9" font-size="9.7" text-anchor="end" textLength="12.54" lengthAdjust="spacingAndGlyphs">1.4</text>
<line x1="397.75" y1="555.8" x2="507.8" y2="555.8" stroke="#000" stroke-width="1.5"/>
<line x1="398.5" y1="555.8" x2="398.5" y2="559.7" stroke="#000" stroke-width="1.3"/>
<line x1="424.9" y1="555.8" x2="424.9" y2="559.7" stroke="#000" stroke-width="1.3"/>
<line x1="451.3" y1="555.8" x2="451.3" y2="559.7" stroke="#000" stroke-width="1.3"/>
<line x1="477.6" y1="555.8" x2="477.6" y2="559.7" stroke="#000" stroke-width="1.3"/>
<line x1="504" y1="555.8" x2="504" y2="559.7" stroke="#000" stroke-width="1.3"/>
<text x="398.4" y="572.1" font-size="9.7" text-anchor="middle" textLength="12.54" lengthAdjust="spacingAndGlyphs">0.4</text>
<text x="425" y="572.1" font-size="9.7" text-anchor="middle" textLength="12.54" lengthAdjust="spacingAndGlyphs">0.6</text>
<text x="451" y="572.1" font-size="9.7" text-anchor="middle" textLength="12.54" lengthAdjust="spacingAndGlyphs">0.8</text>
<text x="477.5" y="572.1" font-size="9.7" text-anchor="middle" textLength="12.54" lengthAdjust="spacingAndGlyphs">1.0</text>
<text x="504" y="572.1" font-size="9.7" text-anchor="middle" textLength="12.54" lengthAdjust="spacingAndGlyphs">1.2</text>
<text x="452.75" y="589.1" font-size="12" text-anchor="middle" textLength="101.5" lengthAdjust="spacingAndGlyphs">CD46 Nutlin3a/cont</text>
<circle cx="410.1" cy="491.8" r="2.5" fill="#b1052e"/>
<circle cx="440.3" cy="500.8" r="2.5" fill="#b1052e"/>
<circle cx="421.8" cy="510.3" r="2.5" fill="#b1052e"/>
<circle cx="429.7" cy="515.8" r="2.5" fill="#b1052e"/>
<circle cx="407.3" cy="521.6" r="2.5" fill="#b1052e"/>
<circle cx="441.9" cy="532" r="2.5" fill="#b1052e"/>
<circle cx="429.7" cy="542.2" r="2.5" fill="#b1052e"/>
<circle cx="421.8" cy="549.1" r="2.5" fill="#b1052e"/>
<circle cx="455.1" cy="458.6" r="2.5" fill="#21448a"/>
<circle cx="473.5" cy="481.2" r="2.5" fill="#21448a"/>
<circle cx="478.8" cy="486.1" r="2.5" fill="#21448a"/>
<circle cx="457.4" cy="490.7" r="2.5" fill="#21448a"/>
<circle cx="445.4" cy="493" r="2.5" fill="#21448a"/>
<text x="417.2" y="453.3" font-size="8.6" textLength="65.2" lengthAdjust="spacingAndGlyphs">r=0.661 p=0.016</text>
<text x="206.1" y="671.5" font-size="12.5" text-anchor="middle" textLength="120.6" lengthAdjust="spacingAndGlyphs" transform="rotate(-90 206.1 671.5)">GFP MFIR Nutlin3a/cont</text>
<line x1="234.2" y1="612.7" x2="234.2" y2="731.85" stroke="#000" stroke-width="1.5"/>
<line x1="230.4" y1="731.1" x2="234.2" y2="731.1" stroke="#000" stroke-width="1.3"/>
<text x="226.1" y="734.5" font-size="9.7" text-anchor="end" textLength="12.54" lengthAdjust="spacingAndGlyphs">0.4</text>
<line x1="230.4" y1="708.14" x2="234.2" y2="708.14" stroke="#000" stroke-width="1.3"/>
<text x="226.1" y="711.54" font-size="9.7" text-anchor="end" textLength="12.54" lengthAdjust="spacingAndGlyphs">0.6</text>
<line x1="230.4" y1="685.18" x2="234.2" y2="685.18" stroke="#000" stroke-width="1.3"/>
<text x="226.1" y="688.58" font-size="9.7" text-anchor="end" textLength="12.54" lengthAdjust="spacingAndGlyphs">0.8</text>
<line x1="230.4" y1="662.22" x2="234.2" y2="662.22" stroke="#000" stroke-width="1.3"/>
<text x="226.1" y="665.62" font-size="9.7" text-anchor="end" textLength="12.54" lengthAdjust="spacingAndGlyphs">1.0</text>
<line x1="230.4" y1="639.26" x2="234.2" y2="639.26" stroke="#000" stroke-width="1.3"/>
<text x="226.1" y="642.66" font-size="9.7" text-anchor="end" textLength="12.54" lengthAdjust="spacingAndGlyphs">1.2</text>
<line x1="230.4" y1="616.3" x2="234.2" y2="616.3" stroke="#000" stroke-width="1.3"/>
<text x="226.1" y="619.7" font-size="9.7" text-anchor="end" textLength="12.54" lengthAdjust="spacingAndGlyphs">1.4</text>
<line x1="233.45" y1="731.1" x2="331.8" y2="731.1" stroke="#000" stroke-width="1.5"/>
<line x1="247.4" y1="731.1" x2="247.4" y2="735" stroke="#000" stroke-width="1.3"/>
<line x1="274.4" y1="731.1" x2="274.4" y2="735" stroke="#000" stroke-width="1.3"/>
<line x1="301.4" y1="731.1" x2="301.4" y2="735" stroke="#000" stroke-width="1.3"/>
<line x1="328.3" y1="731.1" x2="328.3" y2="735" stroke="#000" stroke-width="1.3"/>
<text x="247.3" y="747.4" font-size="9.7" text-anchor="middle" textLength="5.02" lengthAdjust="spacingAndGlyphs">1</text>
<text x="274" y="747.4" font-size="9.7" text-anchor="middle" textLength="5.02" lengthAdjust="spacingAndGlyphs">2</text>
<text x="301.1" y="747.4" font-size="9.7" text-anchor="middle" textLength="5.02" lengthAdjust="spacingAndGlyphs">3</text>
<text x="328.3" y="747.4" font-size="9.7" text-anchor="middle" textLength="5.02" lengthAdjust="spacingAndGlyphs">4</text>
<text x="281.9" y="763.8" font-size="12" text-anchor="middle" textLength="94" lengthAdjust="spacingAndGlyphs">DR5 Nutlin3a/cont</text>
<circle cx="256.2" cy="684.2" r="2.5" fill="#b1052e"/>
<circle cx="252.7" cy="687.6" r="2.5" fill="#b1052e"/>
<circle cx="270.7" cy="687.6" r="2.5" fill="#b1052e"/>
<circle cx="279.7" cy="691.1" r="2.5" fill="#b1052e"/>
<circle cx="320.1" cy="678.6" r="2.5" fill="#b1052e"/>
<circle cx="291.2" cy="702.4" r="2.5" fill="#b1052e"/>
<circle cx="257.8" cy="712.5" r="2.5" fill="#b1052e"/>
<circle cx="291.9" cy="718.5" r="2.5" fill="#b1052e"/>
<circle cx="251.1" cy="641.9" r="2.5" fill="#21448a"/>
<circle cx="240.7" cy="662.2" r="2.5" fill="#21448a"/>
<circle cx="251.1" cy="662.2" r="2.5" fill="#21448a"/>
<circle cx="247.4" cy="666.8" r="2.5" fill="#21448a"/>
<circle cx="245.3" cy="669.2" r="2.5" fill="#21448a"/>
<text x="245.3" y="631.3" font-size="8.6" textLength="68" lengthAdjust="spacingAndGlyphs">r=-0.716 p=0.008</text>
<text x="370.7" y="671.5" font-size="12.5" text-anchor="middle" textLength="120.6" lengthAdjust="spacingAndGlyphs" transform="rotate(-90 370.7 671.5)">GFP MFIR Nutlin3a/cont</text>
<line x1="398.5" y1="613.2" x2="398.5" y2="731.95" stroke="#000" stroke-width="1.5"/>
<line x1="394.7" y1="731.2" x2="398.5" y2="731.2" stroke="#000" stroke-width="1.3"/>
<text x="390.2" y="734.6" font-size="9.7" text-anchor="end" textLength="12.54" lengthAdjust="spacingAndGlyphs">0.4</text>
<line x1="394.7" y1="708.32" x2="398.5" y2="708.32" stroke="#000" stroke-width="1.3"/>
<text x="390.2" y="711.72" font-size="9.7" text-anchor="end" textLength="12.54" lengthAdjust="spacingAndGlyphs">0.6</text>
<line x1="394.7" y1="685.44" x2="398.5" y2="685.44" stroke="#000" stroke-width="1.3"/>
<text x="390.2" y="688.84" font-size="9.7" text-anchor="end" textLength="12.54" lengthAdjust="spacingAndGlyphs">0.8</text>
<line x1="394.7" y1="662.56" x2="398.5" y2="662.56" stroke="#000" stroke-width="1.3"/>
<text x="390.2" y="665.96" font-size="9.7" text-anchor="end" textLength="12.54" lengthAdjust="spacingAndGlyphs">1.0</text>
<line x1="394.7" y1="639.68" x2="398.5" y2="639.68" stroke="#000" stroke-width="1.3"/>
<text x="390.2" y="643.08" font-size="9.7" text-anchor="end" textLength="12.54" lengthAdjust="spacingAndGlyphs">1.2</text>
<line x1="394.7" y1="616.8" x2="398.5" y2="616.8" stroke="#000" stroke-width="1.3"/>
<text x="390.2" y="620.2" font-size="9.7" text-anchor="end" textLength="12.54" lengthAdjust="spacingAndGlyphs">1.4</text>
<line x1="397.75" y1="731.2" x2="496.9" y2="731.2" stroke="#000" stroke-width="1.5"/>
<line x1="398.5" y1="731.2" x2="398.5" y2="735.1" stroke="#000" stroke-width="1.3"/>
<line x1="422.2" y1="731.2" x2="422.2" y2="735.1" stroke="#000" stroke-width="1.3"/>
<line x1="446" y1="731.2" x2="446" y2="735.1" stroke="#000" stroke-width="1.3"/>
<line x1="469.7" y1="731.2" x2="469.7" y2="735.1" stroke="#000" stroke-width="1.3"/>
<line x1="493.4" y1="731.2" x2="493.4" y2="735.1" stroke="#000" stroke-width="1.3"/>
<text x="398.4" y="747.5" font-size="9.7" text-anchor="middle" textLength="12.54" lengthAdjust="spacingAndGlyphs">0.4</text>
<text x="422.2" y="747.5" font-size="9.7" text-anchor="middle" textLength="12.54" lengthAdjust="spacingAndGlyphs">0.6</text>
<text x="445.7" y="747.5" font-size="9.7" text-anchor="middle" textLength="12.54" lengthAdjust="spacingAndGlyphs">0.8</text>
<text x="469.7" y="747.5" font-size="9.7" text-anchor="middle" textLength="12.54" lengthAdjust="spacingAndGlyphs">1.0</text>
<text x="493.4" y="747.5" font-size="9.7" text-anchor="middle" textLength="12.54" lengthAdjust="spacingAndGlyphs">1.2</text>
<text x="447.5" y="764.2" font-size="12" text-anchor="middle" textLength="101.5" lengthAdjust="spacingAndGlyphs">CD46 Nutlin3a/cont</text>
<circle cx="437.3" cy="678.6" r="2.5" fill="#b1052e"/>
<circle cx="436.2" cy="684.4" r="2.5" fill="#b1052e"/>
<circle cx="406.2" cy="687.6" r="2.5" fill="#b1052e"/>
<circle cx="426.5" cy="687.6" r="2.5" fill="#b1052e"/>
<circle cx="426.5" cy="691.1" r="2.5" fill="#b1052e"/>
<circle cx="408.5" cy="702.4" r="2.5" fill="#b1052e"/>
<circle cx="419.3" cy="712.8" r="2.5" fill="#b1052e"/>
<circle cx="419.3" cy="718.8" r="2.5" fill="#b1052e"/>
<circle cx="449.5" cy="641.9" r="2.5" fill="#21448a"/>
<circle cx="451.8" cy="662.5" r="2.5" fill="#21448a"/>
<circle cx="470.8" cy="662.5" r="2.5" fill="#21448a"/>
<circle cx="466.2" cy="666.8" r="2.5" fill="#21448a"/>
<circle cx="441" cy="669.4" r="2.5" fill="#21448a"/>
<text x="416.5" y="626.1" font-size="8.6" textLength="69.2" lengthAdjust="spacingAndGlyphs">r=0.866 p=0.0002</text>
<circle cx="185" cy="796.4" r="3.3" fill="#b1052e"/>
<text x="192.3" y="799.3" font-size="9" textLength="66.9" lengthAdjust="spacingAndGlyphs">Without del(17p)</text>
<circle cx="275.6" cy="796.4" r="3.3" fill="#21448a"/>
<text x="282.3" y="799.3" font-size="9" textLength="53.9" lengthAdjust="spacingAndGlyphs">With del(17p)</text>
<rect x="0.85" y="0.85" width="518.3" height="809.3" fill="none" stroke="#1a1a1a" stroke-width="1.7"/>
</svg>
</body></html>
